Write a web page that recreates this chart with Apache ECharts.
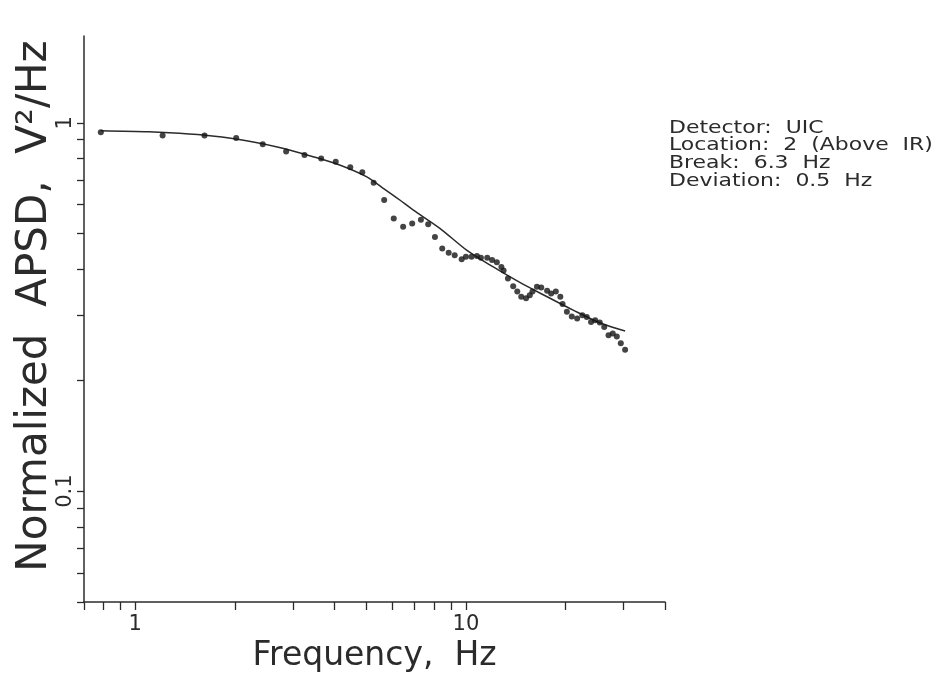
<!DOCTYPE html>
<html>
<head>
<meta charset="utf-8">
<script src="https://cdn.jsdelivr.net/npm/echarts@6/dist/echarts.min.js"></script>
<style>
  html, body { margin: 0; padding: 0; background: #ffffff; }
  #chart { width: 936px; height: 678px; }
</style>
</head>
<body>
<div id="chart"></div>
<script>
// ---- data ----
const measuredFreq = [0.787, 1.21, 1.62, 2.02, 2.43, 2.86, 3.25, 3.65, 4.04, 4.47, 4.86, 5.26, 5.66, 6.05, 6.46, 6.88, 7.31, 7.69, 8.06, 8.48, 8.87, 9.25, 9.71, 10.0, 10.4, 10.8, 11.1, 11.6, 12.0, 12.4, 12.8, 13.0, 13.4, 13.9, 14.3, 14.7, 15.2, 15.6, 15.9, 16.4, 16.9, 17.6, 18.1, 18.7, 19.3, 19.6, 20.2, 20.9, 21.7, 22.5, 23.2, 23.9, 24.6, 25.4, 26.2, 27.0, 27.8, 28.6, 29.4, 30.3];
const measuredPsd  = [0.943, 0.924, 0.924, 0.909, 0.874, 0.836, 0.817, 0.800, 0.784, 0.757, 0.734, 0.687, 0.617, 0.550, 0.522, 0.533, 0.545, 0.530, 0.490, 0.456, 0.444, 0.437, 0.426, 0.433, 0.433, 0.435, 0.430, 0.430, 0.424, 0.418, 0.406, 0.397, 0.378, 0.360, 0.348, 0.337, 0.334, 0.340, 0.348, 0.359, 0.357, 0.350, 0.344, 0.348, 0.337, 0.322, 0.307, 0.298, 0.294, 0.300, 0.297, 0.288, 0.291, 0.287, 0.279, 0.265, 0.268, 0.263, 0.252, 0.242];

const fitFreq = [0.787, 1.10, 1.36, 1.71, 2.17, 2.73, 3.45, 4.15, 5.0, 5.62, 6.31, 6.92, 8.34, 10.05, 12.1, 14.6, 17.6, 21.1, 25.5, 30.3];
const fitPsd  = [0.951, 0.945, 0.936, 0.920, 0.894, 0.857, 0.809, 0.768, 0.714, 0.664, 0.617, 0.580, 0.517, 0.451, 0.406, 0.368, 0.337, 0.310, 0.286, 0.272];

const xTickValues  = [0.7, 0.8, 0.9, 1, 2, 3, 4, 5, 6, 7, 8, 9, 10, 20, 30, 40];
const xLabelValues = [1, 10];
const yTickValues  = [0.05, 0.06, 0.07, 0.08, 0.09, 0.1, 0.2, 0.3, 0.4, 0.5, 0.6, 0.7, 0.8, 0.9, 1];
const yLabelValues = [0.1, 1];

const xAxisTitle = 'Frequency,  Hz';
const yAxisTitle = 'Normalized  APSD,  V\u00B2/Hz';
const annotationLines = ['Detector:  UIC', 'Location:  2  (Above  IR)', 'Break:  6.3  Hz', 'Deviation:  0.5  Hz'];

// ---- chart ----
const ink = '#2b2b2b';
const font = 'DejaVu Sans';
const chart = echarts.init(document.getElementById('chart'), null, { renderer: 'canvas' });

const option = {
  backgroundColor: '#ffffff',
  animation: false,
  grid: { left: 84, right: 271, top: 36, bottom: 76, containLabel: false, outerBoundsMode: 'none' },
  xAxis: {
    type: 'log', logBase: 10, min: 0.7, max: 40,
    axisLine: { show: true, lineStyle: { color: ink, width: 1.5 } },
    axisTick: { show: true, customValues: xTickValues, length: 8, lineStyle: { color: ink, width: 1.3 } },
    axisLabel: { show: true, customValues: xLabelValues, color: ink, fontFamily: font, fontSize: 21, margin: 12,
                 formatter: v => String(v) },
    splitLine: { show: false },
    minorTick: { show: false },
    name: xAxisTitle, nameLocation: 'middle', nameGap: 36,
    nameTextStyle: { color: ink, fontFamily: font, fontSize: 33 }
  },
  yAxis: {
    type: 'log', logBase: 10, min: 0.05, max: 1.72,
    axisLine: { show: true, lineStyle: { color: ink, width: 1.5 } },
    axisTick: { show: true, customValues: yTickValues, length: 7, lineStyle: { color: ink, width: 1.3 } },
    axisLabel: { show: true, customValues: yLabelValues, rotate: 90, color: ink, fontFamily: font, fontSize: 21, margin: 8,
                 formatter: v => String(v) },
    splitLine: { show: false },
    name: yAxisTitle, nameLocation: 'middle', nameGap: 28, nameRotate: 90, nameMoveOverlap: false,
    nameTextStyle: { color: ink, fontFamily: font, fontSize: 42, padding: [0, 0, 0, 26] }
  },
  series: [
    {
      type: 'line',
      data: fitFreq.map((f, i) => [f, fitPsd[i]]),
      smooth: 0.3,
      showSymbol: false,
      lineStyle: { color: ink, width: 1.5 },
      z: 2
    },
    {
      type: 'scatter',
      data: measuredFreq.map((f, i) => [f, measuredPsd[i]]),
      symbol: 'circle',
      symbolSize: 6,
      itemStyle: { color: '#151515' },
      z: 3
    }
  ],
  graphic: [
    {
      type: 'text',
      x: 669, y: 119,
      scaleX: 1.22,
      style: {
        text: annotationLines.join('\n'),
        fill: ink, font: '18px "DejaVu Sans"', lineHeight: 17.7
      }
    }
  ]
};
chart.setOption(option);
</script>
</body>
</html>
